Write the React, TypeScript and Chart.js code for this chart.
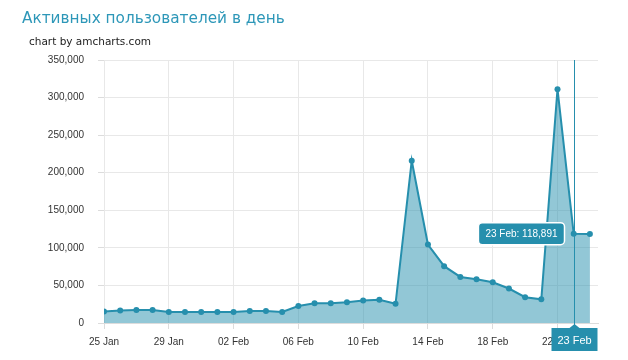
import { useEffect, useRef } from "react";
import { Chart, registerables } from "chart.js";

Chart.register(...registerables);

const dates = [
  "25 Jan", "26 Jan", "27 Jan", "28 Jan", "29 Jan", "30 Jan", "31 Jan",
  "01 Feb", "02 Feb", "03 Feb", "04 Feb", "05 Feb", "06 Feb", "07 Feb",
  "08 Feb", "09 Feb", "10 Feb", "11 Feb", "12 Feb", "13 Feb", "14 Feb",
  "15 Feb", "16 Feb", "17 Feb", "18 Feb", "19 Feb", "20 Feb", "21 Feb",
  "22 Feb", "23 Feb", "24 Feb",
];
const users = [
  15200, 16500, 17300, 17300, 14700, 14700, 14700,
  14700, 14700, 16000, 16000, 14700, 22700, 26300,
  26300, 27600, 29900, 31000, 25500, 216000, 104500,
  75600, 61300, 58300, 54300, 45900, 34300, 31600,
  311200, 118891, 118500,
];
const xTickIndexes = [0, 4, 8, 12, 16, 20, 24, 28];
const yTickValues = [0, 50000, 100000, 150000, 200000, 250000, 300000, 350000];
const titleText = "Активных пользователей в день";
const creditText = "chart by amcharts.com";
const cursorIndex = 29;

const LINE = "#268fad";
const FILL = "rgba(38,143,173,0.5)";
const FONT = "'Liberation Sans', Arial, sans-serif";

const fmt = (v: number) => v.toLocaleString("en-US");

const cursorPlugin = {
  id: "cursorOverlay",
  afterDraw(chart: any) {
    const { ctx, chartArea, scales } = chart;
    const xs = scales.x;
    const ys = scales.y;
    const x = Math.round(xs.getPixelForValue(cursorIndex)) + 0.5;
    const y = ys.getPixelForValue(users[cursorIndex]);
    ctx.save();
    // vertical cursor line
    ctx.strokeStyle = LINE;
    ctx.lineWidth = 1;
    ctx.beginPath();
    ctx.moveTo(x, chartArea.top);
    ctx.lineTo(x, chartArea.bottom + 4);
    ctx.stroke();
    // bottom category balloon
    const bw = 46;
    const bh = 23;
    const bt = chartArea.bottom + 5;
    ctx.fillStyle = LINE;
    ctx.fillRect(x - bw / 2, bt, bw, bh);
    ctx.beginPath();
    ctx.moveTo(x - 5, bt);
    ctx.lineTo(x, bt - 4);
    ctx.lineTo(x + 5, bt);
    ctx.closePath();
    ctx.fill();
    ctx.fillStyle = "#ffffff";
    ctx.font = `11px ${FONT}`;
    ctx.textAlign = "center";
    ctx.textBaseline = "middle";
    ctx.fillText(dates[cursorIndex], x, bt + bh / 2 + 1);
    // value balloon
    const label = `${dates[cursorIndex]}: ${fmt(users[cursorIndex])}`;
    ctx.font = `10px ${FONT}`;
    const tw = ctx.measureText(label).width;
    const w = tw + 14;
    const h = 22;
    const right = x - 10;
    const left = right - w;
    const top = y - h / 2;
    ctx.beginPath();
    (ctx as any).roundRect(left, top, w, h, 4);
    ctx.fillStyle = LINE;
    ctx.fill();
    ctx.strokeStyle = "#ffffff";
    ctx.lineWidth = 1.5;
    ctx.stroke();
    ctx.fillStyle = "#ffffff";
    ctx.textAlign = "center";
    ctx.fillText(label, left + w / 2, y + 1);
    ctx.restore();
  },
};

export default function App() {
  const ref = useRef<HTMLCanvasElement | null>(null);
  useEffect(() => {
    if (!ref.current) return;
    const chart = new Chart(ref.current, {
      type: "line",
      data: {
        datasets: [
          {
            data: users.map((v, i) => ({ x: i, y: v })),
            borderColor: LINE,
            backgroundColor: FILL,
            borderWidth: 2,
            fill: "origin",
            tension: 0,
            pointRadius: 3,
            pointBackgroundColor: LINE,
            pointBorderWidth: 0,
          },
        ],
      },
      options: {
        animation: false,
        responsive: false,
        layout: { padding: { top: 60, right: 30, bottom: 0, left: 0 } },
        plugins: {
          legend: { display: false },
          title: { display: false },
          tooltip: { enabled: false },
        },
        events: [],
        scales: {
          x: {
            type: "linear",
            min: 0,
            max: 30.5,
            afterBuildTicks: (s: any) => {
              s.ticks = xTickIndexes.map((v) => ({ value: v }));
            },
            afterFit: (s: any) => {
              s.height = 37;
            },
            grid: { color: "#e8e8e8", tickLength: 6, tickColor: "#dcdcdc" },
            border: { color: "#dcdcdc" },
            ticks: {
              autoSkip: false,
              maxRotation: 0,
              padding: 7,
              color: "#333333",
              font: { family: FONT, size: 10 },
              callback: (v: any) => dates[v as number] ?? "",
            },
          },
          y: {
            min: 0,
            max: 350000,
            afterBuildTicks: (s: any) => {
              s.ticks = yTickValues.map((v) => ({ value: v }));
            },
            afterFit: (s: any) => {
              s.width = 104;
            },
            grid: { color: "#e8e8e8", tickLength: 6, tickColor: "#dcdcdc" },
            border: { display: false },
            ticks: {
              padding: 14,
              color: "#333333",
              font: { family: FONT, size: 10 },
              callback: (v: any) => fmt(v as number),
            },
          },
        },
      },
      plugins: [cursorPlugin],
    });
    return () => chart.destroy();
  }, []);

  return (
    <div style={{ position: "fixed", left: 0, top: 0, width: 628, height: 360, background: "#fff" }}>
      <canvas ref={ref} width={628} height={360} style={{ position: "absolute", left: 0, top: 0 }} />
      <div
        style={{
          position: "absolute",
          left: 22,
          top: 9,
          fontFamily: "'DejaVu Sans', sans-serif",
          fontSize: 15.3,
          lineHeight: "18px",
          color: "#2d97b8",
          whiteSpace: "nowrap",
        }}
      >
        {titleText}
      </div>
      <div
        style={{
          position: "absolute",
          left: 29,
          top: 35,
          fontFamily: "'DejaVu Sans', sans-serif",
          fontSize: 10.5,
          lineHeight: "12px",
          color: "#222",
          whiteSpace: "nowrap",
        }}
      >
        {creditText}
      </div>
    </div>
  );
}
